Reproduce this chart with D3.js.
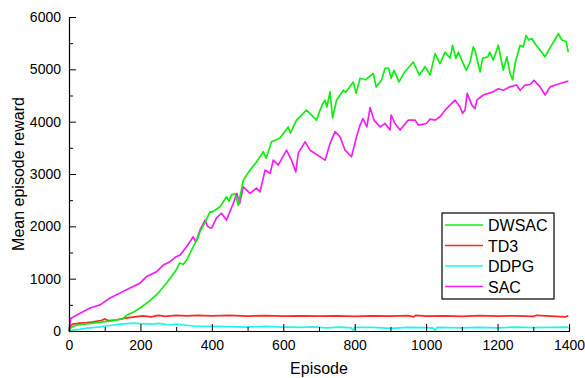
<!DOCTYPE html>
<meta charset="utf-8">
<style>
  body { margin: 0px; background: #fff; }
  text { font-family: 'Liberation Sans', Arial, sans-serif; fill: #000; }
  .lines path { fill: none; stroke-width: 1.7px; stroke-linejoin: round; }
</style>
<body>
<svg id="chart" width="585" height="378"></svg>
<script src="https://cdn.jsdelivr.net/npm/d3@7"></script>
<script>
// episode / value pairs
var dwsacEp = [0,5,10,21,40,68,100,115,150,161,180,199,225,250,275,300,310,320,330,340,350,360,367,380,395,400,423,441,448,455,465,470,474,488,507,525,544,552,567,590,614,620,637,665,693,703,711,717,722,731,738,749,768,775,796,804,815,830,852,860,875,885,895,902,910,924,940,964,981,997,1011,1025,1039,1053,1067,1074,1083,1090,1112,1123,1132,1138,1151,1158,1173,1178,1188,1202,1216,1226,1235,1242,1249,1263,1272,1280,1287,1296,1305,1333,1340,1370,1380,1392,1398];
var dwsacVal = [0,60,80,110,130,150,180,190,230,300,360,440,570,725,930,1165,1300,1270,1360,1500,1640,1760,1900,2060,2280,2270,2375,2565,2480,2600,2620,2500,2400,2880,3075,3230,3425,3300,3615,3685,3900,3780,4030,4220,4030,4220,4350,4410,4280,4570,4070,4410,4600,4560,4760,4540,4830,4800,4920,4665,4790,5020,5020,4830,4980,4760,4950,5140,4890,5050,4890,5300,5110,5330,5210,5460,5210,5330,4985,5140,5430,5330,4950,5210,5240,5330,5175,5460,4985,5240,4920,4800,5110,5460,5430,5650,5560,5590,5490,5240,5330,5680,5560,5530,5330];

var td3Ep = [0,5,10,30,50,67,90,100,110,130,162,185,207,230,250,270,300,330,360,400,450,500,550,600,650,700,750,800,850,900,950,965,970,1000,1050,1100,1150,1200,1250,1300,1310,1350,1390,1398];
var td3Val = [0,100,130,150,160,175,200,230,200,210,250,270,290,270,300,280,300,290,300,290,300,285,295,285,290,285,290,280,290,285,295,270,300,285,290,280,295,285,290,280,300,285,270,290];

var ddpgEp = [0,10,30,50,87,120,143,180,200,235,250,283,300,348,400,441,497,550,582,650,683,720,760,790,795,800,850,900,950,1000,1020,1025,1030,1100,1150,1200,1250,1300,1350,1390,1398];
var ddpgVal = [0,15,30,55,80,110,130,150,140,130,145,115,130,95,90,85,75,90,80,70,78,60,75,60,15,70,70,50,70,65,55,10,70,60,70,60,75,65,70,75,70];

var sacEp = [0,5,7,31,59,87,115,143,171,199,217,245,264,283,300,311,329,348,355,367,381,388,395,400,413,427,441,460,470,478,488,507,525,535,549,563,572,586,609,623,635,642,661,675,717,731,745,759,773,791,805,815,823,834,843,854,871,885,899,902,913,927,950,969,978,1001,1011,1025,1039,1057,1081,1095,1102,1109,1115,1128,1137,1142,1160,1188,1202,1216,1235,1253,1263,1277,1291,1302,1319,1333,1347,1375,1398];
var sacVal = [0,240,250,340,440,500,630,725,820,915,1040,1130,1260,1325,1420,1450,1610,1800,1700,1930,2120,2000,1970,1970,2160,2250,2120,2440,2630,2440,2755,2630,2730,2660,3075,3010,3265,3170,3455,3265,3040,3400,3615,3455,3265,3585,3810,3710,3455,3330,3710,3935,4060,3900,4270,4030,3900,3965,3840,4125,3965,3840,4030,4030,3935,3965,4050,4030,4095,4250,4410,4280,4160,4220,4540,4315,4250,4410,4510,4570,4630,4600,4665,4700,4600,4700,4710,4790,4665,4510,4665,4730,4775];

var seriesNames = ["DWSAC", "TD3", "DDPG", "SAC"];
var seriesColors = ["#12ec12", "#ff2626", "#22f2f2", "#f020f0"];
var xTicks = [0, 200, 400, 600, 800, 1000, 1200, 1400];
var yTicks = [0, 1000, 2000, 3000, 4000, 5000, 6000];

var svg = d3.select("#chart");
var plotLeft = 69, plotRight = 569, plotTop = 17, plotBottom = 331;

var x = d3.scaleLinear().domain([0, 1400]).range([plotLeft, plotRight]);
var y = d3.scaleLinear().domain([0, 6000]).range([plotBottom, plotTop]);

function pairs(ep, val) {
  return ep.map(function(e, i) { return [e, val[i]]; });
}
var series = [pairs(dwsacEp, dwsacVal), pairs(td3Ep, td3Val), pairs(ddpgEp, ddpgVal), pairs(sacEp, sacVal)];

var line = d3.line()
    .x(function(d) { return x(d[0]); })
    .y(function(d) { return y(d[1]); });

// draw order: lowest first so DWSAC / SAC sit on top
var order = [2, 1, 3, 0];
svg.append("g").attr("class", "lines")
  .selectAll("path")
  .data(order)
  .enter().append("path")
    .attr("d", function(i) { return line(series[i]); })
    .attr("stroke", function(i) { return seriesColors[i]; });

// axes: ticks point inward
var xAxis = svg.append("g").attr("transform", "translate(0," + plotBottom + ")")
  .call(d3.axisTop(x).tickValues(d3.range(0, 1401, 100)).tickSize(4).tickFormat(""));
xAxis.selectAll(".tick line").attr("y2", function(d) { return d % 200 === 0 ? -7 : -4; });
svg.append("g").attr("transform", "translate(0," + plotBottom + ")")
  .call(d3.axisBottom(x).tickValues(xTicks).tickSize(0).tickPadding(9).tickFormat(d3.format("d")))
  .call(function(g) { g.select(".domain").remove(); })
  .selectAll("text").style("font-size", "14px");

var yAxis = svg.append("g").attr("transform", "translate(" + plotLeft + ",0)")
  .call(d3.axisRight(y).tickValues(d3.range(0, 6001, 500)).tickSize(4).tickFormat(""));
yAxis.selectAll(".tick line").attr("x2", function(d) { return d % 1000 === 0 ? 7 : 4; });
svg.append("g").attr("transform", "translate(" + plotLeft + ",0)")
  .call(d3.axisLeft(y).tickValues(yTicks).tickSize(0).tickPadding(8).tickFormat(d3.format("d")))
  .call(function(g) { g.select(".domain").remove(); })
  .selectAll("text").style("font-size", "14px");

svg.selectAll(".domain").attr("stroke", "#000").attr("stroke-width", 1.2);
svg.selectAll(".tick line").attr("stroke", "#000");

svg.append("text")
    .attr("x", (plotLeft + plotRight) / 2).attr("y", 374)
    .attr("text-anchor", "middle")
    .style("font-size", "16px")
    .text("Episode");

svg.append("text")
    .attr("transform", "translate(24," + (plotTop + plotBottom) / 2 + ") rotate(-90)")
    .attr("text-anchor", "middle")
    .style("font-size", "16px")
    .text("Mean episode reward");

// legend
var legend = svg.append("g").attr("transform", "translate(442,213)");
legend.append("rect")
    .attr("width", 112).attr("height", 86)
    .attr("fill", "#fff").attr("stroke", "#000").attr("stroke-width", 1.2);
var item = legend.selectAll("g.item")
  .data(seriesNames)
  .enter().append("g")
    .attr("class", "item")
    .attr("transform", function(d, i) { return "translate(0," + (12 + i * 20.5) + ")"; });
item.append("line")
    .attr("x1", 3).attr("x2", 41)
    .attr("stroke", function(d, i) { return seriesColors[i]; })
    .attr("stroke-width", 1.7);
item.append("text")
    .attr("x", 46).attr("y", 6)
    .style("font-size", "16px")
    .text(function(d) { return d; });
</script>
</body>
